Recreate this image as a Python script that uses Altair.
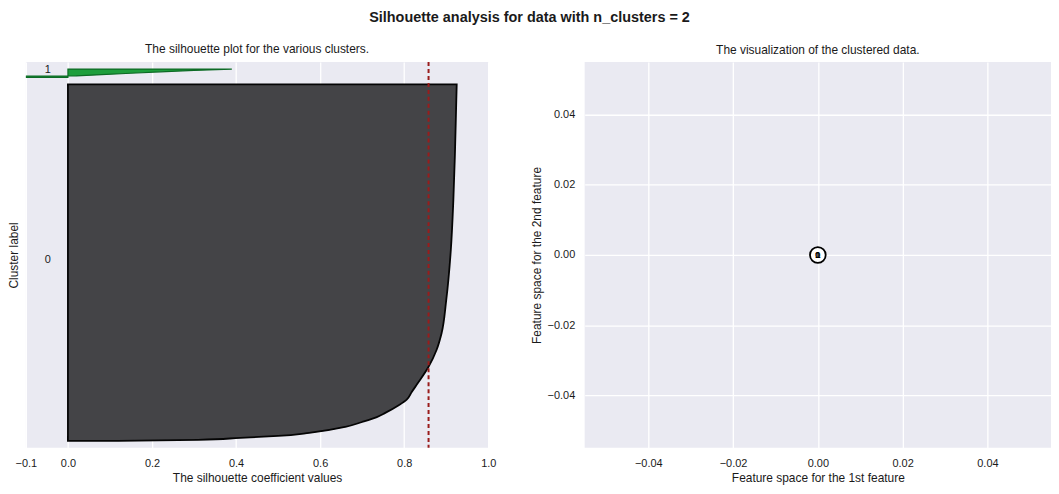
import altair as alt
import pandas as pd

# ---- data ----
# cluster 0: sorted silhouette values (sample position within cluster, value)
c0_rank = [0, 1.4, 4.3, 7.1, 11.4, 20, 27, 34, 40, 51, 59, 70, 83, 106, 130, 154, 201, 273, 344, 416, 487, 510]
c0_value = [0.12, 0.31, 0.41, 0.50, 0.574, 0.66, 0.70, 0.735, 0.755, 0.787, 0.806, 0.818, 0.833, 0.858, 0.877, 0.889, 0.90, 0.911, 0.917, 0.921, 0.924, 0.925]
# cluster 1
c1_rank = [0, 2.0, 2.2, 4, 6, 8, 10, 12]
c1_value = [-0.13, -0.13, 0.02, 0.08, 0.15, 0.22, 0.30, 0.39]

cluster_sizes = [510, 12]
cluster_labels = ["0", "1"]
avg_score = [0.858]

x_ticks = [-0.1, 0.0, 0.2, 0.4, 0.6, 0.8, 1.0]
feat_ticks = [-0.04, -0.02, 0.0, 0.02, 0.04]
centers_x = [0.0]
centers_y = [0.0]

# ---- tables ----
gap = 10
y0_start = gap
y1_start = gap + cluster_sizes[0] + gap
y_total = sum(cluster_sizes) + (len(cluster_sizes) + 1) * gap

df0 = pd.DataFrame({"pos": [y0_start + r for r in c0_rank], "val": c0_value})
df1 = pd.DataFrame({"pos": [y1_start + r for r in c1_rank], "val": c1_value})
starts = [y0_start, y1_start]
df_lab = pd.DataFrame({
    "label": cluster_labels,
    "pos": [s + 0.5 * n for s, n in zip(starts, cluster_sizes)],
    "x": [-0.048] * len(cluster_labels),
})
df_avg = pd.DataFrame({"avg": avg_score})
df_c = pd.DataFrame({"x": centers_x, "y": centers_y})
df_cl = pd.DataFrame({"x": centers_x * 2, "y": centers_y * 2, "t": cluster_labels})

FONT = "Liberation Sans"
TXT = "#1a1a1a"

xs = alt.Scale(domain=[-0.1, 1.0], nice=False, zero=False)
ys = alt.Scale(domain=[0, y_total], nice=False, zero=False)

x_left = alt.X("val:Q", scale=xs, stack=None,
               axis=alt.Axis(values=x_ticks, format=".1f", title="The silhouette coefficient values"))
y_left = alt.Y("pos:Q", scale=ys,
               axis=alt.Axis(labels=False, ticks=False, grid=False, title="Cluster label", titlePadding=5))

area0 = alt.Chart(df0).mark_area(orient="horizontal", color="#444447", stroke="#050505",
                                  strokeWidth=1.8, clip=True, interpolate="monotone").encode(
    x=x_left, x2=alt.datum(0), y=y_left)
area1 = alt.Chart(df1).mark_area(orient="horizontal", color="#1e9e3c", stroke="#0d6a25",
                                  strokeWidth=1.2, clip=True).encode(
    x=x_left, x2=alt.datum(0), y=y_left)
rule = alt.Chart(df_avg).mark_rule(color="#9a1c1c", strokeDash=[4, 3], strokeWidth=2).encode(
    x=alt.X("avg:Q", scale=xs))
labels = alt.Chart(df_lab).mark_text(font=FONT, fontSize=11, color=TXT, align="center",
                                      baseline="alphabetic").encode(
    x=alt.X("x:Q", scale=xs), y=alt.Y("pos:Q", scale=ys), text="label:N")

left = alt.layer(area0, area1, rule, labels).properties(
    width=465, height=388,
    title=alt.TitleParams("The silhouette plot for the various clusters.", fontSize=12,
                          fontWeight="normal", font=FONT, color=TXT, offset=5))

fs = alt.Scale(domain=[-0.055, 0.055], nice=False, zero=False)
xr = alt.X("x:Q", scale=fs, axis=alt.Axis(values=feat_ticks, format=".2f",
                                           title="Feature space for the 1st feature"))
yr = alt.Y("y:Q", scale=fs, axis=alt.Axis(values=feat_ticks, format=".2f",
                                           title="Feature space for the 2nd feature"))
ring = alt.Chart(df_c).mark_point(shape="circle", filled=True, fill="white", stroke="black",
                                  strokeWidth=1.8, size=250, opacity=1).encode(x=xr, y=yr)
ctext = alt.Chart(df_cl).mark_text(font=FONT, fontSize=10, fontWeight="bold", color="black",
                                   baseline="middle", align="center").encode(
    x=alt.X("x:Q", scale=fs), y=alt.Y("y:Q", scale=fs), text="t:N")
right = alt.layer(ring, ctext).properties(
    width=469, height=388,
    title=alt.TitleParams("The visualization of the clustered data.", fontSize=12,
                          fontWeight="normal", font=FONT, color=TXT, offset=5))

chart = alt.hconcat(left, right, spacing=34).properties(
    title=alt.TitleParams("Silhouette analysis for data with n_clusters = 2", fontSize=14.5,
                          fontWeight="bold", font=FONT, color=TXT, anchor="middle", offset=16,
                          dy=-2),
    padding={"left": 0, "right": 0, "top": 0, "bottom": 0},
    background="white",
).configure_view(fill="#EAEAF2", strokeWidth=0).configure_axis(
    grid=True, gridColor="white", gridWidth=1.3, domain=False, ticks=False,
    labelFont=FONT, labelFontSize=11, labelColor=TXT, labelPadding=10, labelFlush=False,
    titleFont=FONT, titleFontSize=12, titleFontWeight="normal", titleColor=TXT,
    titlePadding=4,
)

chart.save("out.html", embed_options={"renderer": "svg", "actions": False})
